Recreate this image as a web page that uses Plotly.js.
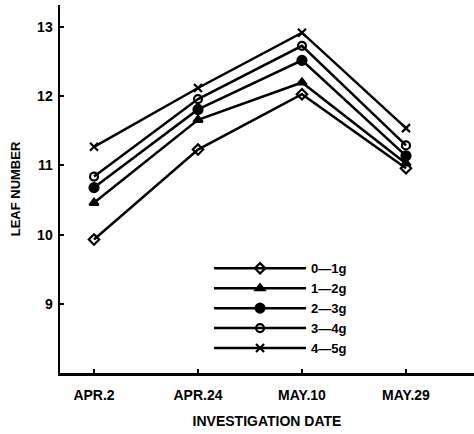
<!DOCTYPE html>
<html>
<head>
<meta charset="utf-8">
<script src="https://cdn.plot.ly/plotly-3.0.1.min.js"></script>
<style>html,body{margin:0;padding:0;background:#fff;}#chart{width:474px;height:434px;}</style>
</head>
<body>
<div id="chart"></div>
<script>
const dates = ["APR.2", "APR.24", "MAY.10", "MAY.29"];
const seriesNames = ["0\u20141g", "1\u20142g", "2\u20143g", "3\u20144g", "4\u20145g"];
const g0_1 = [9.93, 11.23, 12.03, 10.96];
const g1_2 = [10.46, 11.66, 12.20, 11.03];
const g2_3 = [10.68, 11.81, 12.52, 11.14];
const g3_4 = [10.84, 11.96, 12.73, 11.29];
const g4_5 = [11.27, 12.12, 12.92, 11.54];
const yTicks = [9, 10, 11, 12, 13];

const seriesValues = [g0_1, g1_2, g2_3, g3_4, g4_5];
const symbols = ["diamond-open", "triangle-up", "circle", "circle-open", "x-thin-open"];
const sizes = [8, 8, 9, 8, 8];

const FONT = "'Liberation Sans Narrow', 'Arial Narrow', 'Liberation Sans', Arial, sans-serif";

const traces = seriesValues.map((vals, i) => ({
  x: dates,
  y: vals,
  name: seriesNames[i],
  type: "scatter",
  mode: "lines+markers",
  line: {color: "#000", width: 2.5},
  marker: {symbol: symbols[i], size: sizes[i], color: "#000", line: {color: "#000", width: 2.2}}
}));

const layout = {
  width: 474,
  height: 434,
  margin: {l: 60, r: 0, t: 5, b: 61},
  paper_bgcolor: "#fff",
  plot_bgcolor: "#fff",
  font: {family: FONT, color: "#000", size: 13, weight: "bold"},
  showlegend: true,
  legend: {
    x: 0.36, y: 0.325, xanchor: "left", yanchor: "top",
    traceorder: "normal",
    bgcolor: "rgba(0,0,0,0)",
    font: {family: FONT, size: 13, weight: "bold", color: "#000"},
    itemwidth: 92,
    tracegroupgap: 0
  },
  xaxis: {
    type: "category",
    categoryarray: dates,
    range: [-0.327, 3.654],
    showline: true, linecolor: "#000", linewidth: 2.5,
    ticks: "inside", ticklen: 4, tickwidth: 2, tickcolor: "#000",
    showgrid: false, zeroline: false,
    ticklabelstandoff: 8,
    tickfont: {family: FONT, size: 14, weight: "bold"},
    title: {text: "INVESTIGATION DATE", font: {family: FONT, size: 14, weight: "bold"}, standoff: 14}
  },
  yaxis: {
    range: [8.0, 13.32],
    tickvals: yTicks,
    ticktext: yTicks.map(String),
    showline: true, linecolor: "#000", linewidth: 2.5,
    ticks: "inside", ticklen: 4, tickwidth: 2, tickcolor: "#000",
    showgrid: false, zeroline: false,
    ticklabelstandoff: 2,
    tickfont: {family: FONT, size: 14, weight: "bold"},
    title: {text: "LEAF NUMBER", font: {family: FONT, size: 13, weight: "bold"}, standoff: 14}
  }
};

Plotly.newPlot("chart", traces, layout, {displayModeBar: false, staticPlot: true});
</script>
</body>
</html>
